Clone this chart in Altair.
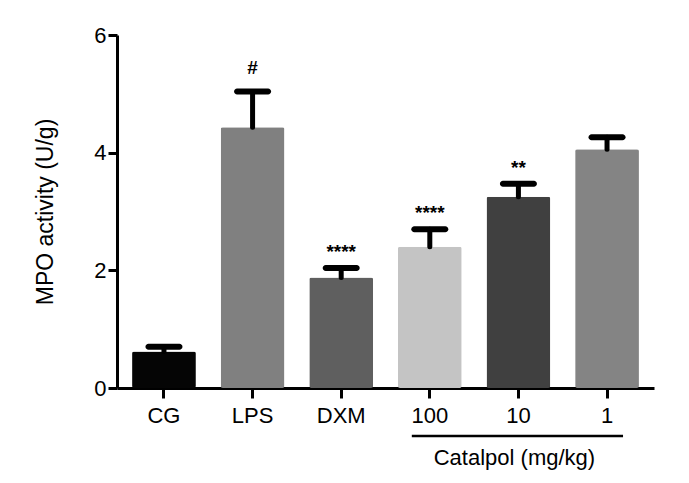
import altair as alt
import pandas as pd

groups = ["CG", "LPS", "DXM", "100", "10", "1"]
means = [0.62, 4.43, 1.88, 2.40, 3.25, 4.06]
errors = [0.08, 0.61, 0.16, 0.30, 0.22, 0.20]
colors = ["#050505", "#808080", "#5f5f5f", "#c4c4c4", "#404040", "#848484"]
stars = ["", "", "****", "****", "**", ""]
hashes = ["", "#", "", "", "", ""]

df = pd.DataFrame({
    "group": groups,
    "mean": means,
    "upper": [m + e for m, e in zip(means, errors)],
    "color": colors,
    "star": stars,
    "hash": hashes,
})

ann = pd.DataFrame({"start": ["100"], "end": ["1"], "mid": ["10"], "label": ["Catalpol (mg/kg)"]})

FONT = "Liberation Sans"
W, H = 537, 353

xscale = alt.Scale(domain=groups, paddingInner=0.28, paddingOuter=0.17)
yscale = alt.Scale(domain=[0, 6], nice=False)

x = alt.X("group:N", scale=xscale, sort=groups,
          axis=alt.Axis(title=None, labelAngle=0, labelFont=FONT, labelFontSize=22,
                        labelColor="black", domainColor="black", domainWidth=3,
                        tickColor="black", tickWidth=3, tickSize=10, labelPadding=7))
y = alt.Y("mean:Q", scale=yscale,
          axis=alt.Axis(title="MPO activity (U/g)", values=[0, 2, 4, 6], format="d", grid=False,
                        labelFont=FONT, labelFontSize=22, labelColor="black",
                        titleFont=FONT, titleFontSize=23, titleFontWeight="normal",
                        titleColor="black", titlePadding=36,
                        domainColor="black", domainWidth=3, tickColor="black",
                        tickWidth=3, tickSize=9, labelPadding=2))

base = alt.Chart(df)

bars = base.mark_bar(cornerRadius=2).encode(
    x=x, y=y, color=alt.Color("color:N", scale=None)
)

err_line = base.mark_rule(color="black", strokeWidth=5, strokeCap="round").encode(
    x=alt.X("group:N", scale=xscale, sort=groups),
    y=alt.Y("mean:Q", scale=yscale),
    y2="upper:Q",
)

err_cap = base.mark_tick(color="black", opacity=1, thickness=6, size=37, cornerRadius=3).encode(
    x=alt.X("group:N", scale=xscale, sort=groups),
    y=alt.Y("upper:Q", scale=yscale),
)

star_text = base.mark_text(font=FONT, fontSize=19, fontWeight="bold", color="black",
                           baseline="alphabetic", dy=-10).encode(
    x=alt.X("group:N", scale=xscale, sort=groups),
    y=alt.Y("upper:Q", scale=yscale),
    text="star:N",
)

hash_text = base.mark_text(font=FONT, fontSize=19, fontWeight="bold", color="black",
                           baseline="alphabetic", dy=-17).encode(
    x=alt.X("group:N", scale=xscale, sort=groups),
    y=alt.Y("upper:Q", scale=yscale),
    text="hash:N",
)

bracket = alt.Chart(ann).mark_rule(color="black", strokeWidth=2.5, xOffset=-18, x2Offset=16).encode(
    x=alt.X("start:N", scale=xscale),
    x2="end:N",
    y=alt.value(H + 48),
)

bracket_text = alt.Chart(ann).mark_text(font=FONT, fontSize=22, color="black", baseline="alphabetic", dx=-4).encode(
    x=alt.X("mid:N", scale=xscale),
    y=alt.value(H + 77),
    text="label:N",
)

chart = alt.layer(bars, err_line, err_cap, star_text, hash_text, bracket, bracket_text).properties(
    width=W, height=H,
    background="white",
    autosize=alt.AutoSizeParams(type="none"),
    padding={"left": 109, "top": 27, "right": 20, "bottom": 86},
).configure_view(strokeWidth=0, stroke=None)

chart.save("out.html", embed_options={"renderer": "svg", "actions": False})
